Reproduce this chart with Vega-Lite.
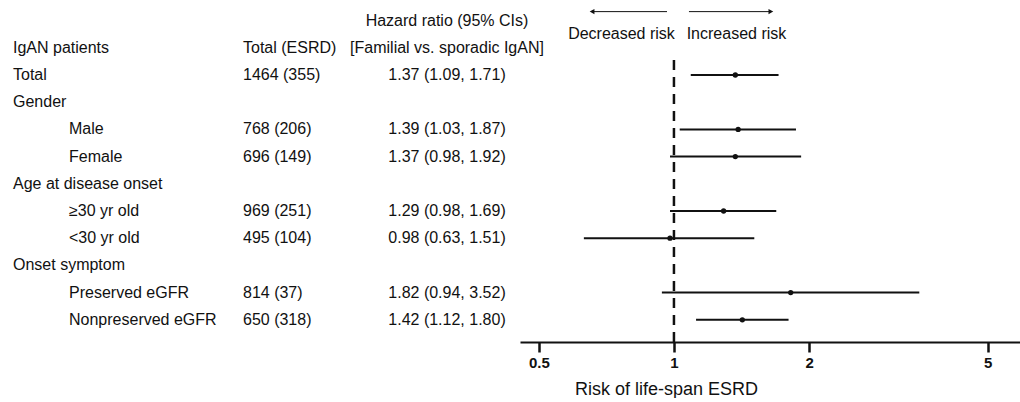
{
  "$schema": "https://vega.github.io/schema/vega-lite/v6.json",
  "padding": 0,
  "spacing": 0,
  "bounds": "flush",
  "config": {
    "view": {"stroke": null},
    "text": {"font": "Liberation Sans", "fontSize": 16, "color": "#111111"},
    "axis": {"grid": false}
  },
  "datasets": {
    "rows": [
      {"r": -1, "label": null, "level": null, "total": null, "hrtext": "Hazard ratio (95% CIs)", "hr": null, "lo": null, "hi": null},
      {"r": 0, "label": "IgAN patients", "level": "main", "total": "Total (ESRD)", "hrtext": "[Familial vs. sporadic IgAN]", "hr": null, "lo": null, "hi": null},
      {"r": 1, "label": "Total", "level": "main", "total": "1464 (355)", "hrtext": "1.37 (1.09, 1.71)", "hr": 1.37, "lo": 1.09, "hi": 1.71},
      {"r": 2, "label": "Gender", "level": "main", "total": null, "hrtext": null, "hr": null, "lo": null, "hi": null},
      {"r": 3, "label": "Male", "level": "sub", "total": "768 (206)", "hrtext": "1.39 (1.03, 1.87)", "hr": 1.39, "lo": 1.03, "hi": 1.87},
      {"r": 4, "label": "Female", "level": "sub", "total": "696 (149)", "hrtext": "1.37 (0.98, 1.92)", "hr": 1.37, "lo": 0.98, "hi": 1.92},
      {"r": 5, "label": "Age at disease onset", "level": "main", "total": null, "hrtext": null, "hr": null, "lo": null, "hi": null},
      {"r": 6, "label": "≥30 yr old", "level": "sub", "total": "969 (251)", "hrtext": "1.29 (0.98, 1.69)", "hr": 1.29, "lo": 0.98, "hi": 1.69},
      {"r": 7, "label": "<30 yr old", "level": "sub", "total": "495 (104)", "hrtext": "0.98 (0.63, 1.51)", "hr": 0.98, "lo": 0.63, "hi": 1.51},
      {"r": 8, "label": "Onset symptom", "level": "main", "total": null, "hrtext": null, "hr": null, "lo": null, "hi": null},
      {"r": 9, "label": "Preserved eGFR", "level": "sub", "total": "814 (37)", "hrtext": "1.82 (0.94, 3.52)", "hr": 1.82, "lo": 0.94, "hi": 3.52},
      {"r": 10, "label": "Nonpreserved eGFR", "level": "sub", "total": "650 (318)", "hrtext": "1.42 (1.12, 1.80)", "hr": 1.42, "lo": 1.12, "hi": 1.8}
    ],
    "ref": [{"x": 1, "y": 0.45, "y2": 10.816}],
    "arrows": [
      {"dir": "dec", "start": 0.965, "end": 0.657, "y": -1.33, "text": "Decreased risk", "tx": 0.764, "ty": -0.5},
      {"dir": "inc", "start": 1.08, "end": 1.644, "y": -1.33, "text": "Increased risk", "tx": 1.378, "ty": -0.5}
    ]
  },
  "hconcat": [
    {
      "width": 26, "height": 342,
      "data": {"name": "rows"},
      "transform": [{"filter": "datum.level === 'main'"}],
      "mark": {"type": "text", "align": "left"},
      "encoding": {
        "y": {"field": "r", "type": "quantitative", "scale": {"domain": [-1.757, 10.816], "reverse": true, "nice": false, "zero": false}, "axis": null},
        "text": {"field": "label"}
      }
    },
    {
      "width": 86, "height": 342,
      "data": {"name": "rows"},
      "transform": [{"filter": "datum.level === 'sub'"}],
      "mark": {"type": "text", "align": "left"},
      "encoding": {
        "y": {"field": "r", "type": "quantitative", "scale": {"domain": [-1.757, 10.816], "reverse": true, "nice": false, "zero": false}, "axis": null},
        "text": {"field": "label"}
      }
    },
    {
      "width": 262, "height": 342,
      "data": {"name": "rows"},
      "transform": [{"filter": "datum.total != null"}],
      "mark": {"type": "text", "align": "left"},
      "encoding": {
        "y": {"field": "r", "type": "quantitative", "scale": {"domain": [-1.757, 10.816], "reverse": true, "nice": false, "zero": false}, "axis": null},
        "text": {"field": "total"}
      }
    },
    {
      "width": 146, "height": 342,
      "data": {"name": "rows"},
      "transform": [{"filter": "datum.hrtext != null"}],
      "mark": {"type": "text", "align": "center"},
      "encoding": {
        "y": {"field": "r", "type": "quantitative", "scale": {"domain": [-1.757, 10.816], "reverse": true, "nice": false, "zero": false}, "axis": null},
        "text": {"field": "hrtext"}
      }
    },
    {
      "width": 500, "height": 342,
      "encoding": {
        "y": {"type": "quantitative", "scale": {"domain": [-1.757, 10.816], "reverse": true, "nice": false, "zero": false}, "axis": null}
      },
      "layer": [
        {
          "data": {"name": "ref"},
          "mark": {"type": "rule", "strokeDash": [10, 7], "strokeWidth": 2.5, "color": "#111111"},
          "encoding": {
            "x": {"field": "x", "type": "quantitative", "scale": {"type": "log", "domain": [0.454, 5.9], "nice": false},
              "axis": {"values": [0.5, 1, 2, 5], "format": "~g", "title": "Risk of life-span ESRD", "domainColor": "#111111", "domainWidth": 2, "tickColor": "#111111", "tickWidth": 2.5, "tickSize": 10, "labelFont": "Liberation Sans", "labelFontSize": 15, "labelFontWeight": "bold", "labelColor": "#111111", "labelPadding": 3, "titleFont": "Liberation Sans", "titleFontSize": 18, "titleFontWeight": "normal", "titleColor": "#111111", "titlePadding": 10, "titleX": 146, "titleAlign": "center", "titleAnchor": null}},
            "y": {"field": "y", "type": "quantitative"},
            "y2": {"field": "y2"}
          }
        },
        {
          "data": {"name": "rows"},
          "transform": [{"filter": "datum.hr != null"}],
          "mark": {"type": "rule", "strokeWidth": 2, "color": "#111111"},
          "encoding": {
            "x": {"field": "lo", "type": "quantitative"},
            "x2": {"field": "hi"},
            "y": {"field": "r", "type": "quantitative"}
          }
        },
        {
          "data": {"name": "rows"},
          "transform": [{"filter": "datum.hr != null"}],
          "mark": {"type": "point", "filled": true, "shape": "circle", "size": 28, "color": "#111111", "opacity": 1},
          "encoding": {
            "x": {"field": "hr", "type": "quantitative"},
            "y": {"field": "r", "type": "quantitative"}
          }
        },
        {
          "data": {"name": "arrows"},
          "mark": {"type": "rule", "strokeWidth": 1, "color": "#111111"},
          "encoding": {
            "x": {"field": "start", "type": "quantitative"},
            "x2": {"field": "end"},
            "y": {"field": "y", "type": "quantitative"}
          }
        },
        {
          "data": {"name": "arrows"},
          "mark": {"type": "point", "filled": true, "size": 30, "color": "#111111", "opacity": 1},
          "encoding": {
            "x": {"field": "end", "type": "quantitative"},
            "y": {"field": "y", "type": "quantitative"},
            "shape": {"field": "dir", "type": "nominal", "scale": {"domain": ["dec", "inc"], "range": ["triangle-left", "triangle-right"]}, "legend": null}
          }
        },
        {
          "data": {"name": "arrows"},
          "mark": {"type": "text", "align": "center"},
          "encoding": {
            "x": {"field": "tx", "type": "quantitative"},
            "y": {"field": "ty", "type": "quantitative"},
            "text": {"field": "text"}
          }
        }
      ]
    }
  ]
}
